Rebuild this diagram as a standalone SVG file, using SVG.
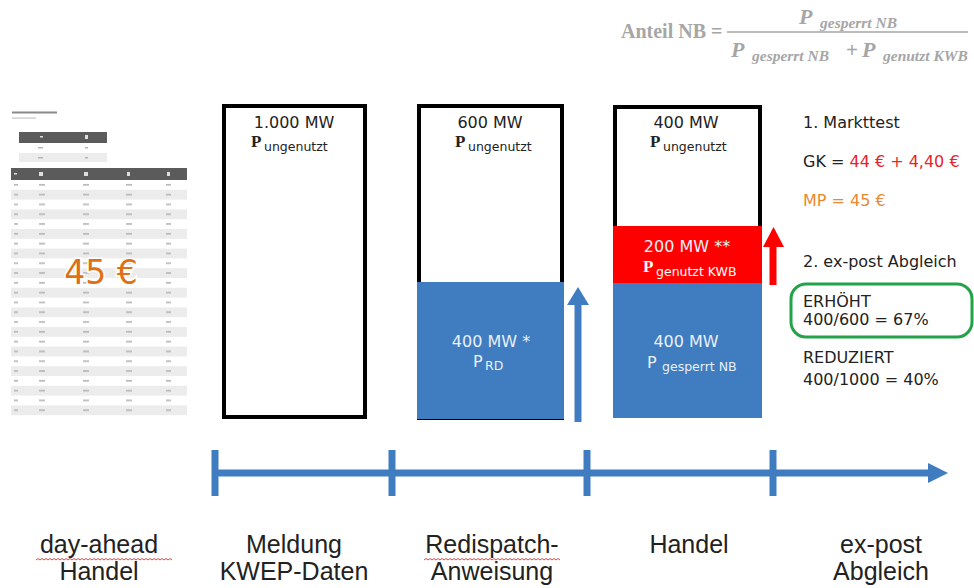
<svg xmlns="http://www.w3.org/2000/svg" width="974" height="588" viewBox="0 0 974 588">
<style>
.box{fill:#ffffff;stroke:#000000;stroke-width:4}
.blue{fill:#3f7cc0}
.red{fill:#ff0000}
.val{font-family:"DejaVu Sans",Verdana,sans-serif;font-size:16px;fill:#222222}
.valw{font-family:"DejaVu Sans",Verdana,sans-serif;font-size:16px;fill:#e8f0fb}
.pb{font-family:"Liberation Serif","DejaVu Serif",serif;font-weight:bold;font-size:17px}
.sub{font-family:"DejaVu Sans",Verdana,sans-serif;font-size:12.5px}
.note{font-family:"DejaVu Sans",Verdana,sans-serif;font-size:16px}
.lbl{font-family:"Liberation Sans",Arial,sans-serif;font-size:25px;fill:#222222;text-anchor:middle}
.fm{font-family:"Liberation Serif","DejaVu Serif",serif;font-weight:bold;fill:#a6a6a6}
.fi{font-family:"Liberation Serif","DejaVu Serif",serif;font-weight:bold;font-style:italic;fill:#a6a6a6}
.tl{stroke:#3f7cc0;stroke-width:7;fill:none}
.squig{fill:none;stroke:#e03030;stroke-width:0.9}
</style>
<defs>
<pattern id="rows" patternUnits="userSpaceOnUse" x="11" y="180" width="176" height="19.6">
<rect x="3" y="4" width="4" height="1.6" fill="#b5b5b5"/>
<rect x="28" y="4" width="6" height="1.6" fill="#b5b5b5"/>
<rect x="72" y="4" width="6" height="1.6" fill="#b5b5b5"/>
<rect x="115" y="4" width="6" height="1.6" fill="#b5b5b5"/>
<rect x="155" y="4" width="5" height="1.6" fill="#b5b5b5"/>
<rect x="3" y="13.8" width="4" height="1.6" fill="#b5b5b5"/>
<rect x="28" y="13.8" width="6" height="1.6" fill="#b5b5b5"/>
<rect x="72" y="13.8" width="6" height="1.6" fill="#b5b5b5"/>
<rect x="115" y="13.8" width="6" height="1.6" fill="#b5b5b5"/>
<rect x="155" y="13.8" width="5" height="1.6" fill="#b5b5b5"/>
</pattern>
</defs>

<g id="formula">
<text class="fm" x="621" y="38" font-size="20">Anteil NB =</text>
<line x1="727" y1="32" x2="968" y2="32" stroke="#a6a6a6" stroke-width="1.5"/>
<text class="fi" x="799" y="24" font-size="22">P</text>
<text class="fi" x="820" y="28" font-size="15.5">gesperrt NB</text>
<text class="fi" x="731" y="57" font-size="22">P</text>
<text class="fi" x="752" y="61" font-size="15.5">gesperrt NB</text>
<text class="fm" x="846" y="57" font-size="21">+</text>
<text class="fi" x="862" y="57" font-size="22">P</text>
<text class="fi" x="883" y="61" font-size="15.5">genutzt KWB</text>
</g>

<g id="table">
<rect x="12" y="111.5" width="45" height="2" fill="#8a8a8a"/>
<rect x="12" y="117.5" width="24" height="1.2" fill="#c5c5c5"/>
<rect x="19" y="132" width="88" height="11" fill="#5b5b5b"/>
<rect x="40" y="136" width="3" height="1.5" fill="#dddddd"/>
<rect x="85" y="135" width="3" height="4" fill="#dddddd"/>
<rect x="19" y="153" width="88" height="9" fill="#ececec"/>
<rect x="38" y="147" width="5" height="1.5" fill="#b5b5b5"/>
<rect x="85" y="147" width="3" height="1.5" fill="#b5b5b5"/>
<rect x="38" y="157" width="5" height="1.5" fill="#b5b5b5"/>
<rect x="85" y="157" width="3" height="1.5" fill="#b5b5b5"/>
<rect x="11" y="168" width="176" height="12" fill="#5b5b5b"/>
<rect x="14" y="173" width="3" height="1.5" fill="#dddddd"/>
<rect x="39" y="172" width="4" height="4" fill="#dddddd"/>
<rect x="84" y="172" width="4" height="4" fill="#dddddd"/>
<rect x="127" y="172" width="3" height="4" fill="#dddddd"/>
<rect x="167" y="172" width="3" height="4" fill="#dddddd"/>
<g fill="#ececec">
<rect x="11" y="189.8" width="176" height="9.8"/>
<rect x="11" y="209.4" width="176" height="9.8"/>
<rect x="11" y="229" width="176" height="9.8"/>
<rect x="11" y="248.6" width="176" height="9.8"/>
<rect x="11" y="268.2" width="176" height="9.8"/>
<rect x="11" y="287.8" width="176" height="9.8"/>
<rect x="11" y="307.4" width="176" height="9.8"/>
<rect x="11" y="327" width="176" height="9.8"/>
<rect x="11" y="346.6" width="176" height="9.8"/>
<rect x="11" y="366.2" width="176" height="9.8"/>
<rect x="11" y="385.8" width="176" height="9.8"/>
<rect x="11" y="405.4" width="176" height="9.8"/>
</g>
<rect x="11" y="180" width="176" height="235.2" fill="url(#rows)"/>
<text x="101" y="284" text-anchor="middle" font-family="'DejaVu Sans',Verdana,sans-serif" font-size="33" fill="#e07014" stroke="#ffffff" stroke-width="3" paint-order="stroke">45 €</text>
</g>

<g id="box-meldung">
<rect class="box" x="224" y="106" width="141" height="311"/>
<text class="val" x="294" y="128" text-anchor="middle">1.000 MW</text>
<text class="pb" x="251" y="147" fill="#222222">P</text>
<text class="sub" x="264" y="151" fill="#222222">ungenutzt</text>
</g>

<g id="box-redispatch">
<rect class="box" x="419" y="106" width="143" height="312"/>
<rect class="blue" x="417" y="282" width="147" height="137"/>
<text class="val" x="490" y="128" text-anchor="middle">600 MW</text>
<text class="pb" x="455" y="147" fill="#222222">P</text>
<text class="sub" x="468" y="151" fill="#222222">ungenutzt</text>
<text class="valw" x="491" y="347" text-anchor="middle">400 MW *</text>
<text class="valw" x="473" y="367">P</text>
<text class="sub" x="485" y="370" fill="#e8f0fb" font-size="11">RD</text>
</g>

<g id="box-handel">
<rect class="box" x="615" y="107" width="145" height="130"/>
<rect class="red" x="613" y="226" width="149" height="57"/>
<rect class="blue" x="613" y="283" width="149" height="135"/>
<text class="val" x="686" y="128" text-anchor="middle">400 MW</text>
<text class="pb" x="650" y="147" fill="#222222">P</text>
<text class="sub" x="663" y="151" fill="#222222">ungenutzt</text>
<text class="valw" x="687" y="252" text-anchor="middle">200 MW **</text>
<text class="pb" x="643" y="272" fill="#ffffff">P</text>
<text class="sub" x="656" y="276" fill="#ffffff">genutzt KWB</text>
<text class="valw" x="686" y="347" text-anchor="middle">400 MW</text>
<text class="valw" x="647" y="368">P</text>
<text class="sub" x="662" y="371" fill="#e8f0fb">gesperrt NB</text>
</g>

<g id="notes">
<text class="note" x="803" y="128" fill="#222222">1. Markttest</text>
<text class="note" x="803" y="167" fill="#222222">GK = <tspan fill="#e8232a">44 € + 4,40 €</tspan></text>
<text class="note" x="803" y="206" fill="#e8892f">MP = 45 €</text>
<text class="note" x="803" y="267" fill="#222222">2. ex-post Abgleich</text>
<rect x="791" y="284" width="181" height="53" rx="15" fill="none" stroke="#22a34a" stroke-width="3"/>
<text class="note" x="803" y="307" fill="#222222">ERHÖHT</text>
<text class="note" x="803" y="325" fill="#222222">400/600 = 67%</text>
<text class="note" x="803" y="363" fill="#222222">REDUZIERT</text>
<text class="note" x="803" y="385" fill="#222222">400/1000 = 40%</text>
</g>

<g id="connectors">
<line class="tl" x1="578" y1="303" x2="578" y2="422"/>
<polygon points="567,305 578,287 589,305" fill="#3f7cc0"/>
<line x1="773" y1="245" x2="773" y2="285" stroke="#ff0000" stroke-width="7"/>
<polygon points="763,247 773.5,227 784,247" fill="#ff0000"/>
<line class="tl" x1="213" y1="473" x2="930" y2="473"/>
<polygon points="928,463 948,473 928,483" fill="#3f7cc0"/>
<line class="tl" x1="215" y1="450" x2="215" y2="496"/>
<line class="tl" x1="392" y1="450" x2="392" y2="496"/>
<line class="tl" x1="587" y1="450" x2="587" y2="496"/>
<line class="tl" x1="773" y1="450" x2="773" y2="496"/>
</g>

<g id="labels">
<text class="lbl" x="99" y="553">day-ahead</text>
<text class="lbl" x="99" y="580">Handel</text>
<text class="lbl" x="294" y="553">Meldung</text>
<text class="lbl" x="294" y="580">KWEP-Daten</text>
<text class="lbl" x="492" y="553">Redispatch-</text>
<text class="lbl" x="492" y="580">Anweisung</text>
<text class="lbl" x="689" y="553">Handel</text>
<text class="lbl" x="881" y="553">ex-post</text>
<text class="lbl" x="881" y="580">Abgleich</text>
<path class="squig" d="M36 560 l2 -1.5 l2 1.5 l2 -1.5 l2 1.5 l2 -1.5 l2 1.5 l2 -1.5 l2 1.5 l2 -1.5 l2 1.5 l2 -1.5 l2 1.5 l2 -1.5 l2 1.5 l2 -1.5 l2 1.5 l2 -1.5 l2 1.5 l2 -1.5 l2 1.5 l2 -1.5 l2 1.5 l2 -1.5 l2 1.5 l2 -1.5 l2 1.5 l2 -1.5 l2 1.5 l2 -1.5 l2 1.5 l2 -1.5 l2 1.5 l2 -1.5 l2 1.5 l2 -1.5 l2 1.5 l2 -1.5 l2 1.5 l2 -1.5 l2 1.5 l2 -1.5 l2 1.5 l2 -1.5 l2 1.5 l2 -1.5 l2 1.5 l2 -1.5 l2 1.5 l2 -1.5 l2 1.5 l2 -1.5 l2 1.5 l2 -1.5 l2 1.5 l2 -1.5 l2 1.5 l2 -1.5 l2 1.5 l2 -1.5 l2 1.5 l2 -1.5 l2 1.5 l2 -1.5 l2 1.5 l2 -1.5 l2 1.5 l2 -1.5 l2 1.5"/>
<path class="squig" d="M424 560 l2 -1.5 l2 1.5 l2 -1.5 l2 1.5 l2 -1.5 l2 1.5 l2 -1.5 l2 1.5 l2 -1.5 l2 1.5 l2 -1.5 l2 1.5 l2 -1.5 l2 1.5 l2 -1.5 l2 1.5 l2 -1.5 l2 1.5 l2 -1.5 l2 1.5 l2 -1.5 l2 1.5 l2 -1.5 l2 1.5 l2 -1.5 l2 1.5 l2 -1.5 l2 1.5 l2 -1.5 l2 1.5 l2 -1.5 l2 1.5 l2 -1.5 l2 1.5 l2 -1.5 l2 1.5 l2 -1.5 l2 1.5 l2 -1.5 l2 1.5 l2 -1.5 l2 1.5 l2 -1.5 l2 1.5 l2 -1.5 l2 1.5 l2 -1.5 l2 1.5 l2 -1.5 l2 1.5 l2 -1.5 l2 1.5 l2 -1.5 l2 1.5 l2 -1.5 l2 1.5 l2 -1.5 l2 1.5 l2 -1.5 l2 1.5 l2 -1.5 l2 1.5 l2 -1.5 l2 1.5 l2 -1.5 l2 1.5 l2 -1.5 l2 1.5"/>
</g>
</svg>
